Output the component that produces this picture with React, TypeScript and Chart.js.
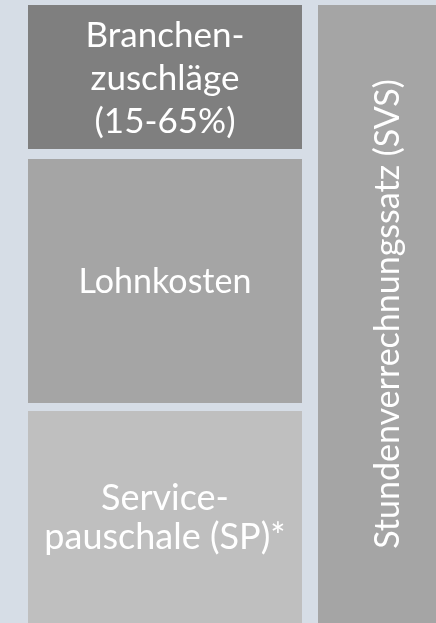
import React, { useEffect, useRef } from "react";
import { Chart, registerables } from "chart.js";

Chart.register(...registerables);

// ---- data ----
const categories = ["Kosten", "SVS"];
const segmentNames = ["Servicepauschale (SP)", "Lohnkosten", "Branchenzuschläge"];
const segmentValues = [35.6, 41.1, 23.3]; // share of the hourly rate (stacked)
const svsValue = [100];
const segmentLabels: string[][] = [
  ["Service-", "pauschale (SP)*"],
  ["Lohnkosten"],
  ["Branchen-", "zuschläge", "(15-65%)"],
];
const svsLabel = "Stundenverrechnungssatz (SVS)";

// ---- styles ----
const BG = "#d6dde6";
const segmentColors = ["#bfbfbf", "#a5a5a5", "#7f7f7f"];
const svsColor = "#a5a5a5";
const segmentGaps = [8, 10, 0];
const segmentFont = [36, 34, 35];
const segmentLineHeight = [39, 43, 43];
const svsFont = 34;
const FONT = "Lato, 'Open Sans', sans-serif";
const CAP = 0.72;

const labelPlugin = {
  id: "boxLabels",
  afterDatasetsDraw(chart: any) {
    const ctx = chart.ctx;
    ctx.save();
    ctx.fillStyle = "#ffffff";
    ctx.textAlign = "center";
    chart.data.datasets.forEach((ds: any, di: number) => {
      const meta = chart.getDatasetMeta(di);
      meta.data.forEach((el: any, i: number) => {
        const v = ds.data[i];
        if (v === null || v === undefined) return;
        const { x, y, base } = el.getProps(["x", "y", "base"], true);
        const top = Math.min(y, base) + (ds._gap || 0);
        const bottom = Math.max(y, base);
        const cy = (top + bottom) / 2;
        if (ds._vertical) {
          ctx.save();
          ctx.translate(x, cy);
          ctx.rotate(-Math.PI / 2);
          ctx.font = `${ds._font}px ${FONT}`;
          ctx.textBaseline = "alphabetic";
          ctx.fillText(ds._lines[0], 0, (ds._font * CAP) / 2);
          ctx.restore();
        } else {
          const lines: string[] = ds._lines;
          const lh = ds._lh;
          ctx.font = `${ds._font}px ${FONT}`;
          ctx.textBaseline = "alphabetic";
          const first = cy - ((lines.length - 1) * lh) / 2 + (ds._font * CAP) / 2;
          lines.forEach((t, li) => ctx.fillText(t, x, first + li * lh));
        }
      });
    });
    ctx.restore();
  },
};

export default function App() {
  const ref = useRef<HTMLCanvasElement>(null);
  useEffect(() => {
    document.body.style.margin = "0";
    const datasets: any[] = segmentNames.map((name, i) => ({
      label: name,
      data: [segmentValues[i], null],
      backgroundColor: segmentColors[i],
      borderColor: BG,
      borderWidth: { top: segmentGaps[i], left: 0, right: 0, bottom: 0 },
      borderSkipped: false,
      barThickness: 274,
      inflateAmount: 0,
      clip: false,
      _gap: segmentGaps[i],
      _lines: segmentLabels[i],
      _font: segmentFont[i],
      _lh: segmentLineHeight[i],
    }));
    datasets.push({
      label: svsLabel,
      data: [null, svsValue[0]],
      backgroundColor: svsColor,
      borderWidth: 0,
      barThickness: 138,
      inflateAmount: 0,
      clip: false,
      _gap: 0,
      _lines: [svsLabel],
      _font: svsFont,
      _vertical: true,
    });
    const chart = new Chart(ref.current!, {
      type: "bar",
      data: { labels: categories, datasets },
      options: {
        animation: false,
        responsive: true,
        maintainAspectRatio: false,
        layout: { padding: { left: 165, right: 49, top: 5, bottom: 0 } },
        plugins: { legend: { display: false }, tooltip: { enabled: false } },
        scales: {
          x: { stacked: true, display: false, offset: false },
          y: { stacked: true, display: false, min: 0, max: 100 },
        },
      },
      plugins: [labelPlugin],
    });
    return () => chart.destroy();
  }, []);
  return (
    <div style={{ position: "fixed", left: 0, top: 0, width: 436, height: 623, background: BG }}>
      <canvas ref={ref} />
    </div>
  );
}
